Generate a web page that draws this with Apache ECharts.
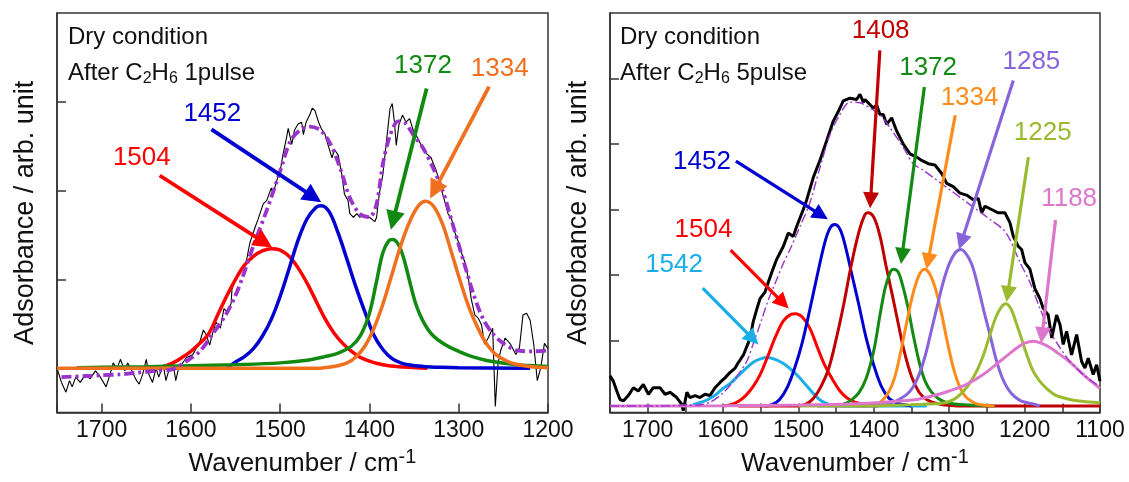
<!DOCTYPE html>
<html><head><meta charset="utf-8">
<script src="https://cdn.jsdelivr.net/npm/echarts@6/dist/echarts.min.js"></script>
<style>html,body{margin:0;padding:0;background:#fff}#c{width:1129px;height:482px}</style>
</head><body><div id="c"></div>
<script>
const FONT = 'Liberation Sans, Arial, sans-serif';

// ---------- Left panel (After C2H6 1pulse) ----------
const leftXTicks = [1700, 1600, 1500, 1400, 1300, 1200];
const leftYTicks = [0, 1, 2, 3];
const leftMeasured = [[1750,0.0],[1745,-0.16],[1740,-0.27],[1736,-0.14],[1733,-0.21],[1729,-0.10],[1724,-0.16],[1718,-0.07],[1713,-0.12],[1707,-0.03],[1702,-0.09],[1695,-0.21],[1690,-0.05],[1687,0.06],[1683,-0.01],[1679,0.10],[1674,-0.03],[1671,0.06],[1667,-0.01],[1662,-0.12],[1658,-0.18],[1654,-0.07],[1650,0.10],[1647,-0.07],[1643,-0.16],[1639,0.0],[1636,-0.10],[1631,0.04],[1628,-0.14],[1624,0.0],[1620,0.06],[1617,-0.14],[1614,-0.01],[1612,-0.03],[1605,0.12],[1598,0.15],[1590,0.30],[1586,0.43],[1583,0.38],[1579,0.26],[1576,0.38],[1572,0.52],[1567,0.45],[1563,0.67],[1559,0.63],[1555,0.73],[1554,0.89],[1550,1.00],[1546,1.08],[1541,1.13],[1537.6,1.22],[1534,1.41],[1528,1.59],[1525,1.67],[1519,1.85],[1515,1.89],[1510,2.03],[1508,1.96],[1504,2.11],[1500,2.22],[1497,2.40],[1493,2.59],[1491,2.70],[1487,2.52],[1484,2.68],[1480,2.75],[1476,2.77],[1474,2.63],[1471,2.77],[1467,2.85],[1464,2.93],[1461,2.90],[1457,2.77],[1454,2.70],[1450,2.64],[1446,2.50],[1442,2.37],[1439,2.46],[1435,2.40],[1431,2.18],[1428,1.96],[1424,1.89],[1422,1.74],[1418,1.70],[1414,1.74],[1411,1.70],[1405,1.72],[1400,1.70],[1394,1.65],[1392,1.70],[1389,1.96],[1385,2.18],[1381,2.55],[1377,2.92],[1374.5,2.98],[1372,2.77],[1370,2.51],[1367,2.74],[1363,2.85],[1359,2.77],[1355,2.81],[1351,2.68],[1348,2.63],[1342,2.51],[1336.5,2.42],[1331,2.37],[1325,2.22],[1321,2.07],[1316,1.89],[1312,1.74],[1308,1.68],[1304,1.52],[1300,1.41],[1297,1.30],[1293,1.19],[1289,1.00],[1286,0.78],[1282,0.60],[1278,0.56],[1274.5,0.49],[1271,0.27],[1267,0.34],[1262,0.45],[1259,-0.43],[1256,0.05],[1253,0.20],[1248,0.34],[1242,0.27],[1236,0.155],[1232,0.23],[1228,0.60],[1224,0.62],[1220,0.54],[1216,0.27],[1212,-0.14],[1208,0.01],[1204,0.28],[1200,0.22]];
const leftFit = [[1745,-0.10],[1720,-0.09],[1700,-0.08],[1680,-0.07],[1660,-0.05],[1640,-0.03],[1620,-0.01],[1605,0.08],[1590,0.19],[1576,0.38],[1561,0.60],[1550,0.82],[1543,1.00],[1530,1.38],[1515,1.78],[1500,2.22],[1489,2.55],[1478,2.68],[1467,2.72],[1455,2.68],[1444,2.53],[1433,2.26],[1422,1.92],[1411,1.74],[1400,1.70],[1392,1.85],[1385,2.30],[1377,2.62],[1368,2.78],[1360,2.76],[1351,2.63],[1340,2.48],[1329,2.26],[1318,2.00],[1307,1.63],[1295,1.22],[1284,0.85],[1273,0.56],[1262,0.39],[1250,0.28],[1235,0.20],[1217,0.19],[1200,0.20]];
const leftPeak1504 = [[1630,0.02],[1620,0.06],[1610,0.12],[1600,0.19],[1590,0.28],[1580,0.39],[1570,0.60],[1560,0.81],[1550,1.00],[1540,1.16],[1530,1.26],[1520,1.32],[1510,1.345],[1500,1.33],[1490,1.26],[1480,1.13],[1470,0.96],[1460,0.76],[1450,0.56],[1440,0.40],[1430,0.28],[1420,0.19],[1410,0.12],[1400,0.08],[1390,0.05],[1380,0.03],[1370,0.02],[1355,0.01],[1335,0.0]];
const leftPeak1452 = [[1560,0.0],[1550,0.07],[1540,0.13],[1530,0.22],[1520,0.36],[1510,0.55],[1500,0.81],[1490,1.12],[1480,1.44],[1470,1.68],[1460,1.81],[1454,1.83],[1445,1.76],[1435,1.52],[1425,1.22],[1415,0.91],[1405,0.63],[1395,0.37],[1385,0.21],[1375,0.11],[1365,0.06],[1355,0.035],[1340,0.02],[1320,0.01],[1300,0.005],[1220,0.0]];
const leftPeak1372 = [[1728,0.005],[1700,0.01],[1650,0.017],[1600,0.028],[1550,0.04],[1500,0.06],[1470,0.09],[1450,0.13],[1435,0.17],[1420,0.25],[1410,0.37],[1400,0.62],[1392,0.98],[1385,1.30],[1378,1.44],[1374,1.45],[1368,1.40],[1362,1.25],[1355,0.98],[1348,0.72],[1340,0.53],[1330,0.38],[1316,0.27],[1300,0.19],[1285,0.13],[1270,0.09],[1255,0.065],[1235,0.04],[1215,0.027],[1200,0.02]];
const leftPeak1334 = [[1750,0.0],[1460,0.0],[1440,0.02],[1425,0.06],[1415,0.13],[1405,0.25],[1395,0.45],[1385,0.72],[1375,1.05],[1365,1.38],[1355,1.65],[1345,1.83],[1337,1.88],[1328,1.82],[1318,1.62],[1308,1.30],[1298,0.97],[1288,0.67],[1278,0.44],[1268,0.26],[1258,0.15],[1248,0.09],[1238,0.05],[1225,0.025],[1210,0.01],[1200,0.005]];
// label centre, arrow tail, arrow tip  (wavenumber, absorbance)
const leftLabels = {
  '1504': {pos:[1655,2.37], tail:[1635,2.17], tip:[1509,1.36]},
  '1452': {pos:[1576,2.86], tail:[1577,2.69], tip:[1454,1.87]},
  '1372': {pos:[1340,3.41], tail:[1336,3.15], tip:[1376,1.56]},
  '1334': {pos:[1254,3.37], tail:[1266,3.17], tip:[1332,1.91]}
};

// ---------- Right panel (After C2H6 5pulse) ----------
const rightXTicks = [1700, 1600, 1500, 1400, 1300, 1200, 1100];
const rightYTicks = [0, 1, 2, 3, 4, 5];
const rightMeasured = [[1750,0.46],[1745.6,0.38],[1741,0.23],[1736.7,0.10],[1732,0.08],[1725.7,0.16],[1719,0.28],[1712.5,0.23],[1705.8,0.33],[1699,0.18],[1692.6,0.28],[1683.7,0.28],[1677,0.18],[1670.4,0.21],[1661.5,0.13],[1655,0.03],[1652.8,-0.07],[1648,0.21],[1644,0.13],[1637,0.16],[1630.6,0.13],[1624,0.18],[1617.4,0.16],[1610.7,0.28],[1604,0.36],[1597.5,0.43],[1591,0.51],[1584,0.58],[1580,0.66],[1573,0.78],[1564,1.04],[1560,1.29],[1555,1.49],[1551,1.64],[1544.4,1.74],[1540,1.89],[1535.5,2.04],[1528.9,2.24],[1520,2.44],[1513.5,2.64],[1506.9,2.59],[1502.4,2.74],[1493.6,3.00],[1489,3.15],[1480,3.50],[1471.5,3.75],[1462.6,4.05],[1453.8,4.35],[1447,4.50],[1440.6,4.66],[1431.7,4.70],[1422.8,4.68],[1418.4,4.76],[1414,4.64],[1411.8,4.68],[1405,4.60],[1400.8,4.55],[1396.3,4.60],[1392,4.45],[1387.5,4.45],[1383,4.30],[1376.4,4.40],[1369.8,4.20],[1361,4.00],[1352,3.85],[1343,3.80],[1336.6,3.75],[1327.8,3.70],[1319,3.68],[1310,3.55],[1303.4,3.40],[1294.7,3.35],[1285.8,3.25],[1277,3.22],[1268,3.15],[1261.5,3.17],[1257,2.95],[1252.6,3.05],[1243.8,3.00],[1235,2.95],[1226,2.95],[1219.5,2.80],[1215,2.59],[1208.5,2.44],[1204,2.39],[1199.6,2.19],[1193,2.09],[1186.3,1.79],[1179.7,1.64],[1175.3,1.49],[1168.7,1.39],[1164,1.04],[1157.6,1.39],[1153,1.24],[1148.8,0.94],[1144.3,1.14],[1137.7,0.78],[1131,1.09],[1124.4,0.68],[1120,0.58],[1115.6,0.73],[1109,0.48],[1104.5,0.63],[1100,0.38]];
const rightFit = [[1750,0.0],[1700,0.0],[1650,0.01],[1630,0.02],[1617,0.06],[1600,0.20],[1586.5,0.38],[1568.7,0.68],[1560,0.95],[1550,1.28],[1540,1.62],[1530,1.90],[1520,2.18],[1510,2.42],[1498,2.74],[1485,3.10],[1472,3.62],[1458,4.15],[1445,4.45],[1431.7,4.64],[1418.4,4.63],[1405,4.55],[1392,4.45],[1378.6,4.25],[1361,3.95],[1347.8,3.70],[1334.5,3.60],[1316.7,3.45],[1299,3.30],[1281.4,3.15],[1263.7,3.00],[1246,2.85],[1228,2.69],[1219.5,2.54],[1206,2.19],[1193,1.89],[1179.7,1.49],[1166.4,1.14],[1153,0.89],[1139.8,0.68],[1122.3,0.48],[1104.5,0.33],[1100,0.31]];
const rightPeak1542 = [[1640,0.02],[1630,0.055],[1620,0.10],[1610,0.17],[1600,0.27],[1590,0.35],[1580,0.46],[1570,0.57],[1560,0.67],[1550,0.72],[1542,0.74],[1530,0.71],[1520,0.65],[1510,0.56],[1500,0.45],[1490,0.32],[1480,0.19],[1470,0.08],[1460,0.03],[1450,0.01],[1440,0.0],[1330,0.0]];
const rightPeak1504 = [[1600,0.0],[1590,0.02],[1580,0.07],[1570,0.16],[1560,0.30],[1550,0.50],[1540,0.78],[1530,1.07],[1520,1.30],[1510,1.40],[1504,1.41],[1495,1.36],[1485,1.19],[1475,0.90],[1465,0.62],[1455,0.41],[1445,0.23],[1435,0.12],[1425,0.06],[1415,0.03],[1405,0.01],[1395,0.0]];
const rightPeak1452 = [[1545,0.0],[1535,0.02],[1525,0.10],[1515,0.28],[1505,0.58],[1495,0.97],[1485,1.47],[1475,2.00],[1465,2.50],[1458,2.72],[1452,2.77],[1445,2.70],[1438,2.45],[1430,2.05],[1420,1.55],[1410,1.03],[1400,0.62],[1390,0.30],[1380,0.12],[1370,0.05],[1360,0.02],[1350,0.0]];
const rightPeak1408 = [[1580,0.0],[1500,0.0],[1490,0.03],[1480,0.12],[1470,0.30],[1460,0.57],[1450,1.02],[1440,1.55],[1430,2.15],[1420,2.65],[1412,2.92],[1408,2.95],[1400,2.88],[1392,2.60],[1384,2.15],[1376,1.72],[1368,1.28],[1360,0.85],[1350,0.45],[1340,0.21],[1330,0.10],[1320,0.05],[1310,0.025],[1300,0.01],[1290,0.0],[1100,0.0]];
const rightPeak1372 = [[1450,0.0],[1440,0.03],[1430,0.09],[1420,0.20],[1410,0.43],[1400,0.85],[1392,1.38],[1385,1.80],[1378,2.05],[1374,2.09],[1368,2.05],[1362,1.85],[1355,1.52],[1348,1.10],[1340,0.68],[1332,0.38],[1324,0.22],[1315,0.12],[1305,0.06],[1295,0.035],[1280,0.02],[1260,0.01],[1240,0.0]];
const rightPeak1334 = [[1420,0.0],[1400,0.02],[1390,0.07],[1380,0.22],[1372,0.45],[1364,0.85],[1356,1.30],[1348,1.72],[1340,2.00],[1333,2.09],[1326,2.02],[1318,1.78],[1310,1.40],[1302,0.95],[1294,0.56],[1286,0.29],[1278,0.14],[1270,0.07],[1262,0.03],[1250,0.01],[1240,0.0]];
const rightPeak1285 = [[1475,0.0],[1420,0.0],[1400,0.01],[1385,0.03],[1374,0.06],[1365,0.11],[1356,0.18],[1348,0.29],[1340,0.48],[1332,0.76],[1324,1.14],[1316,1.52],[1308,1.89],[1300,2.17],[1292,2.34],[1285,2.39],[1278,2.33],[1270,2.16],[1262,1.83],[1254,1.45],[1246,1.09],[1238,0.72],[1230,0.44],[1222,0.26],[1214,0.15],[1205,0.08],[1196,0.05],[1185,0.02],[1180,0.0]];
const rightPeak1225 = [[1500,0.0],[1420,0.0],[1380,0.01],[1350,0.02],[1330,0.03],[1312,0.04],[1300,0.07],[1290,0.13],[1280,0.24],[1270,0.40],[1262,0.57],[1254,0.80],[1246,1.09],[1238,1.36],[1231,1.51],[1225,1.56],[1218,1.48],[1212,1.30],[1205,1.06],[1197,0.78],[1189,0.54],[1180,0.38],[1170,0.26],[1160,0.17],[1150,0.13],[1140,0.10],[1130,0.08],[1115,0.06],[1100,0.05]];
const rightPeak1188 = [[1750,0.0],[1600,0.005],[1500,0.015],[1430,0.03],[1390,0.055],[1360,0.08],[1343,0.10],[1320,0.16],[1300,0.23],[1277,0.33],[1255,0.48],[1233,0.68],[1220,0.80],[1210,0.89],[1200,0.96],[1188,0.99],[1178,0.96],[1166,0.89],[1155,0.80],[1144,0.71],[1133,0.60],[1122,0.48],[1110,0.36],[1100,0.27]];
const rightLabels = {
  '1542': {pos:[1665,2.15], tail:[1627,1.80], tip:[1553,0.94]},
  '1504': {pos:[1626,2.69], tail:[1590,2.38], tip:[1513,1.49]},
  '1452': {pos:[1628,3.73], tail:[1583,3.74], tip:[1461,2.85]},
  '1408': {pos:[1391,5.73], tail:[1392,5.43], tip:[1405,3.02]},
  '1372': {pos:[1328,5.16], tail:[1333,4.87], tip:[1364,2.17]},
  '1334': {pos:[1273,4.70], tail:[1292,4.44], tip:[1330,2.09]},
  '1285': {pos:[1191,5.25], tail:[1215,4.97], tip:[1287,2.39]},
  '1225': {pos:[1176,4.17], tail:[1195,3.80], tip:[1224,1.59]},
  '1188': {pos:[1141,3.17], tail:[1159,2.84], tip:[1178,0.96]}
};

// ---------- build ----------
const chart = echarts.init(document.getElementById('c'), null, {renderer:'canvas'});
const HEAD_L = 19, HEAD_R = 16;

function peak(idx, data, color, width, key, labels, arrowW, head) {
  const s = {type:'line', xAxisIndex:idx, yAxisIndex:idx, data, symbol:'none', smooth:0.35,
    lineStyle:{color, width}, z:3, silent:true};
  if (key) {
    const L = labels[key];
    s.markPoint = {symbol:'circle', symbolSize:0, silent:true,
      label:{show:true, position:'inside', formatter:key, color, fontSize:26, fontFamily:FONT},
      data:[{name:key, coord:L.pos}]};
    s.markLine = {silent:true, symbol:['none','triangle'], symbolSize:head,
      label:{show:false}, lineStyle:{color, width:arrowW, type:'solid'}, emphasis:{disabled:true},
      data:[[{coord:L.tail},{coord:L.tip}]]};
    s._arrow = {idx, tail:L.tail, tip:L.tip, head};
  }
  return s;
}

function xAx(idx, min, interval) {
  return {type:'value', gridIndex:idx, inverse:true, min, max:1750, interval,
    axisLine:{show:true, onZero:false, lineStyle:{color:'#333', width:1.5}},
    axisTick:{show:true, inside:true, length:9, lineStyle:{color:'#333', width:1.5}},
    axisLabel:{color:'#111', fontSize:23, fontFamily:FONT, margin:7,
      formatter: v => (v % 100 === 0 ? String(v) : '')},
    splitLine:{show:false},
    name:'Wavenumber / cm{sup|-1}', nameLocation:'middle', nameGap:33,
    nameTextStyle:{color:'#111', fontSize:26, fontFamily:FONT,
      rich:{sup:{fontSize:20, fontFamily:FONT, color:'#111', padding:[0,0,13,0]}}}};
}
function yAx(idx, min, max, ticks) {
  return {type:'value', gridIndex:idx, min, max,
    axisLine:{show:true, onZero:false, lineStyle:{color:'#333', width:1.5}},
    axisTick:{show:true, inside:true, length:9, customValues:ticks, lineStyle:{color:'#333', width:1.5}},
    axisLabel:{show:false}, splitLine:{show:false},
    name:'Adsorbance / arb. unit', nameLocation:'middle', nameGap:18,
    nameTextStyle:{color:'#111', fontSize:27, fontFamily:FONT}};
}

const series = [
  {type:'line', xAxisIndex:0, yAxisIndex:0, data:leftMeasured, symbol:'none', lineStyle:{color:'#000', width:1.1}, z:2, silent:true},
  peak(0, leftPeak1504, '#ff0000', 3.5, '1504', leftLabels, 3.8, HEAD_L),
  peak(0, leftPeak1452, '#0000d0', 3.5, '1452', leftLabels, 3.8, HEAD_L),
  peak(0, leftPeak1372, '#128a12', 3.5, '1372', leftLabels, 3.8, HEAD_L),
  peak(0, leftPeak1334, '#f07020', 3.5, '1334', leftLabels, 3.8, HEAD_L),
  {type:'line', xAxisIndex:0, yAxisIndex:0, data:leftFit, symbol:'none', smooth:0.3, z:4, silent:true,
    lineStyle:{color:'#9933cc', width:3.8, type:[10,4,3,4]}},

  {type:'line', xAxisIndex:1, yAxisIndex:1, data:rightMeasured, symbol:'none', lineStyle:{color:'#000', width:3}, z:2, silent:true},
  peak(1, rightPeak1542, '#19aee8', 3, '1542', rightLabels, 3.2, HEAD_R),
  peak(1, rightPeak1504, '#ff0000', 3, '1504', rightLabels, 3.2, HEAD_R),
  peak(1, rightPeak1452, '#0000d0', 3, '1452', rightLabels, 3.2, HEAD_R),
  peak(1, rightPeak1408, '#c00000', 3, '1408', rightLabels, 3.2, HEAD_R),
  peak(1, rightPeak1372, '#148a14', 3, '1372', rightLabels, 3.2, HEAD_R),
  peak(1, rightPeak1334, '#ff8c1a', 3, '1334', rightLabels, 3.2, HEAD_R),
  peak(1, rightPeak1285, '#8864dc', 3, '1285', rightLabels, 3.2, HEAD_R),
  peak(1, rightPeak1225, '#9aba30', 3, '1225', rightLabels, 3.2, HEAD_R),
  peak(1, rightPeak1188, '#dd77cc', 3, '1188', rightLabels, 3.2, HEAD_R),
  {type:'line', xAxisIndex:1, yAxisIndex:1, data:rightFit, symbol:'none', smooth:0.3, z:4, silent:true,
    lineStyle:{color:'#9933cc', width:1.4, type:[9,3,2,3]}}
];

const txt = (x, y, t) => ({type:'text', x, y, silent:true, z:10, style:{text:t, fontSize:24, fontFamily:FONT, fill:'#111',
  verticalAlign:'middle', rich:{s:{fontSize:16, fontFamily:FONT, fill:'#111', padding:[11,0,0,0]}}}});

const arrows = series.map(s => s._arrow);
series.forEach(s => { delete s._arrow; });

chart.setOption({
  animation:false,
  backgroundColor:'#fff',
  grid:[
    {left:57, top:13, width:491, height:406, show:true, borderColor:'#333', borderWidth:1.5, backgroundColor:'transparent'},
    {left:610, top:13, width:490, height:406, show:true, borderColor:'#333', borderWidth:1.5, backgroundColor:'transparent'}
  ],
  xAxis:[xAx(0, 1200, 100), xAx(1, 1100, 50)],
  yAxis:[yAx(0, -0.5, 4, leftYTicks), yAx(1, -0.1, 6, rightYTicks)],
  series,
  graphic:[
    txt(68, 37, 'Dry condition'),
    txt(68, 73, 'After C{s|2}H{s|6} 1pulse'),
    txt(620, 37, 'Dry condition'),
    txt(620, 73, 'After C{s|2}H{s|6} 5pulse')
  ]
});

// pull each arrow's line end back so the triangle's point lands on the tip
const upd = arrows.map(a => {
  if (!a) return {};
  const f = {xAxisIndex:a.idx, yAxisIndex:a.idx};
  const p0 = chart.convertToPixel(f, a.tail), p1 = chart.convertToPixel(f, a.tip);
  const dx = p1[0]-p0[0], dy = p1[1]-p0[1], len = Math.hypot(dx, dy);
  const e = [p1[0] - dx/len*a.head/2, p1[1] - dy/len*a.head/2];
  const end = chart.convertFromPixel(f, e);
  return {markLine:{data:[[{coord:a.tail},{coord:end}]]}};
});
chart.setOption({series:upd});
</script>
</body></html>
